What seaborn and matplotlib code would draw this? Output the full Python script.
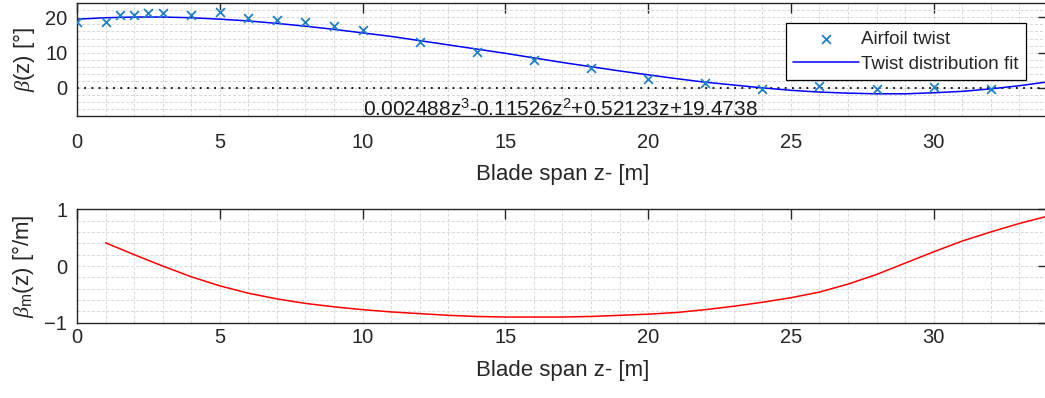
import seaborn as sns
import matplotlib.pyplot as plt
import pandas as pd
import numpy as np

sns.set_theme(style="white")
plt.rcParams["font.family"] = ["Liberation Sans", "DejaVu Sans"]
plt.rcParams["mathtext.fontset"] = "custom"
plt.rcParams["mathtext.rm"] = "Liberation Sans"
plt.rcParams["mathtext.it"] = "Liberation Serif:italic"

# measured airfoil twist (deg) along the blade span (m)
twist_z = [0, 1, 1.5, 2, 2.5, 3, 4, 5, 6, 7, 8, 9, 10, 12, 14, 16, 18, 20, 22, 24, 26, 28, 30, 32]
twist_deg = [18.8, 18.8, 20.7, 20.7, 21.2, 21.2, 20.7, 21.4, 19.8, 19.3, 18.8, 17.6, 16.5,
             12.9, 10.1, 7.8, 5.7, 2.6, 1.3, -0.2, 0.5, -0.4, 0.3, -0.2]

fit_z = list(range(0, 35))
fit_deg = [19.5, 19.9, 20.1, 20.1, 19.9, 19.5, 19.0, 18.3, 17.5, 16.6, 15.6, 14.6, 13.4,
           12.2, 11.0, 9.8, 8.5, 7.2, 6.0, 4.8, 3.7, 2.6, 1.6, 0.8, 0.0, -0.7, -1.2,
           -1.5, -1.7, -1.7, -1.4, -1.0, -0.3, 0.6, 1.7]

# twist rate (deg/m)
rate_z = list(range(1, 35))
rate_deg_m = [0.41, 0.20, 0.00, -0.19, -0.35, -0.48, -0.58, -0.66, -0.72, -0.77, -0.81,
              -0.84, -0.87, -0.89, -0.90, -0.90, -0.90, -0.89, -0.87, -0.85, -0.82, -0.77,
              -0.71, -0.64, -0.56, -0.46, -0.32, -0.15, 0.05, 0.25, 0.44, 0.60, 0.75, 0.88]

fit_label = "0.002488z$^{3}$-0.11526z$^{2}$+0.52123z+19.4738"

pts = pd.DataFrame({"z": twist_z, "beta": twist_deg})
fit = pd.DataFrame({"z": fit_z, "beta": fit_deg})
rate = pd.DataFrame({"z": rate_z, "rate": rate_deg_m})

ink = "#262626"
fig = plt.figure(figsize=(10.45, 3.98), dpi=100)
ax1 = fig.add_axes([0.0737, 0.7085, 0.929, 0.2832])
ax2 = fig.add_axes([0.0737, 0.1892, 0.929, 0.2849])


def style_axes(ax, minor_y, xpad):
    ax.set_xlim(0, 34)
    ax.set_xticks([0, 5, 10, 15, 20, 25, 30])
    ax.set_xticks(np.arange(0, 35, 1), minor=True)
    ax.set_yticks(minor_y, minor=True)
    ax.grid(True, which="both", color="#d8d8d8", linestyle=(0, (3, 2)), linewidth=0.7)
    ax.set_axisbelow(True)
    for s in ax.spines.values():
        s.set_color(ink)
        s.set_linewidth(1.0)
    ax.tick_params(which="major", direction="in", length=7, width=1.0, color=ink,
                   top=True, right=True, labelsize=14.5, labelcolor=ink)
    ax.tick_params(axis="x", pad=xpad)
    ax.tick_params(axis="y", pad=7)
    ax.tick_params(which="minor", length=0)
    ax.set_xlabel("Blade span z- [m]", fontsize=16, color=ink, labelpad=9)


# top: twist points and fit
ax1.axhline(0, color="black", linestyle=(0, (1, 3)), linewidth=1.3, zorder=1)
sns.lineplot(data=fit, x="z", y="beta", ax=ax1, color="#0000FF", linewidth=1.1,
             label="Twist distribution fit", zorder=2)
sns.scatterplot(data=pts, x="z", y="beta", ax=ax1, marker="x", s=40, color="#1f80c8",
                linewidth=1.3, label="Airfoil twist", zorder=3)
ax1.set_ylim(-8, 24)
ax1.set_yticks([0, 10, 20])
style_axes(ax1, np.arange(-8, 25, 2), 12)
ax1.set_ylabel(r"$\beta$(z) [°]", fontsize=16, color=ink, labelpad=6)
ax1.text(10, -7.9, fit_label, fontsize=15, color="#1a1a1a", ha="left", va="baseline")

handles, labels = ax1.get_legend_handles_labels()
order = [labels.index("Airfoil twist"), labels.index("Twist distribution fit")]
leg = ax1.legend([handles[i] for i in order], [labels[i] for i in order],
                 loc="upper right", bbox_to_anchor=(0.978, 0.823), borderaxespad=0,
                 fontsize=13.5, frameon=True, fancybox=False, framealpha=1,
                 edgecolor="black", handlelength=3.5, handletextpad=0.15,
                 labelspacing=0.42, borderpad=0.4)
leg.get_frame().set_linewidth(0.9)
leg.set_zorder(2.5)

# bottom: twist rate
sns.lineplot(data=rate, x="z", y="rate", ax=ax2, color="#FF0000", linewidth=1.1)
ax2.set_ylim(-1, 1)
ax2.set_yticks([-1, 0, 1])
style_axes(ax2, np.arange(-1, 1.01, 0.2), 4)
ax2.set_ylabel(r"$\beta_{\mathrm{m}}$(z) [°/m]", fontsize=16, color=ink, labelpad=6)

fig.savefig("out.png", dpi=100)
plt.close(fig)
